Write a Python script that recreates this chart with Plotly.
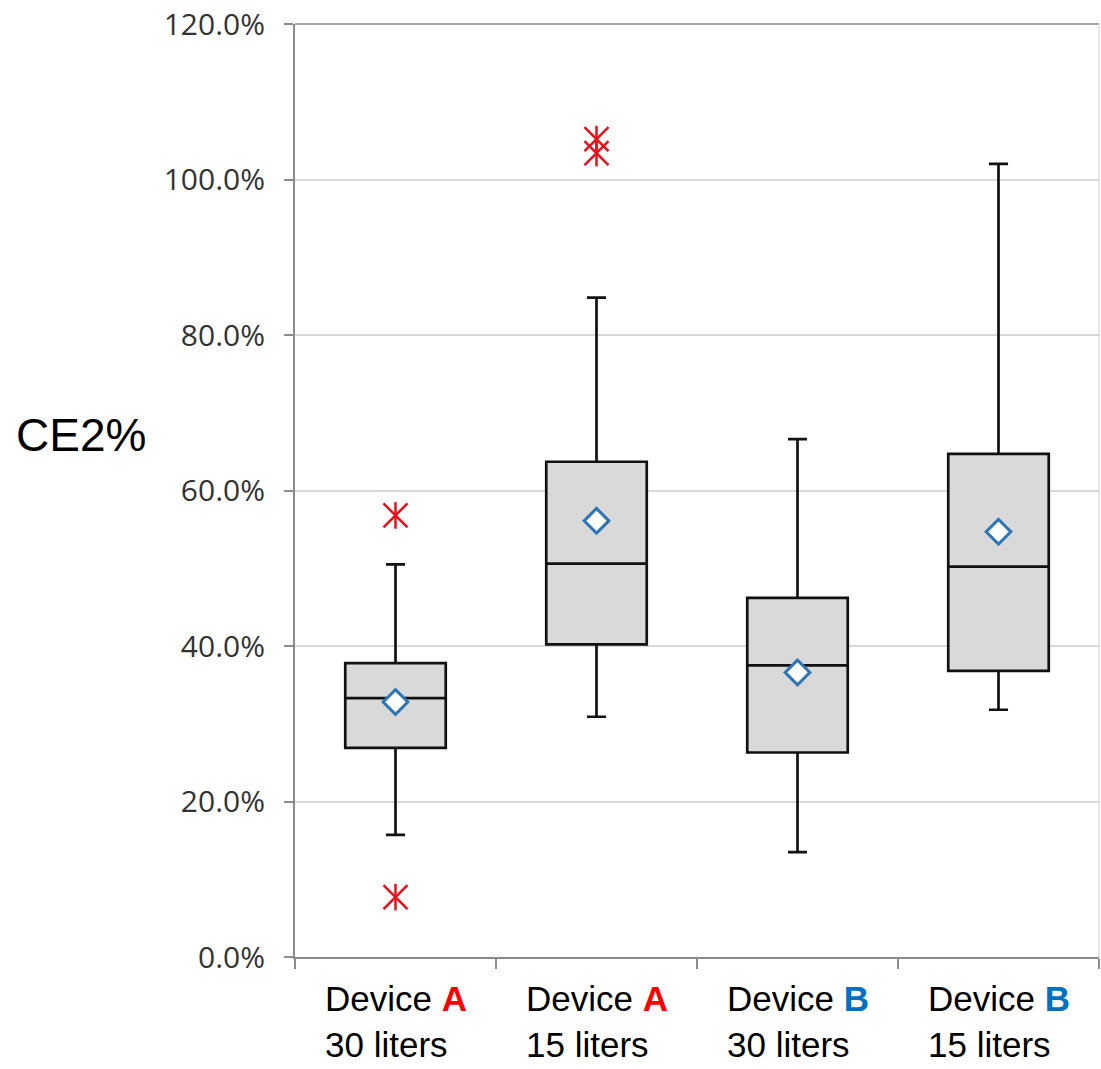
import plotly.graph_objects as go

# Groups and their summary statistics (CE2, in %)
categories = ["Device A 30 liters", "Device A 15 liters", "Device B 30 liters", "Device B 15 liters"]
devices = ["A", "A", "B", "B"]
volumes = ["30 liters", "15 liters", "30 liters", "15 liters"]
lower_whisker = [15.7, 30.9, 13.5, 31.8]
q1_values = [26.9, 40.2, 26.3, 36.8]
median_values = [33.3, 50.6, 37.5, 50.2]
q3_values = [37.8, 63.7, 46.2, 64.7]
upper_whisker = [50.5, 84.8, 66.6, 102.0]
mean_values = [32.8, 56.1, 36.6, 54.7]

# Outliers
outlier_groups = ["Device A 30 liters", "Device A 30 liters", "Device A 15 liters", "Device A 15 liters"]
outlier_values = [56.8, 7.7, 105.2, 103.4]

y_ticks = [0, 20, 40, 60, 80, 100, 120]
y_tick_labels = ["0.0%", "20.0%", "40.0%", "60.0%", "80.0%", "100.0%", "120.0%"]
device_colors = {"A": "#ff0000", "B": "#0070c0"}

fig = go.Figure()

fig.add_trace(go.Box(
    x=categories,
    q1=q1_values,
    median=median_values,
    q3=q3_values,
    lowerfence=lower_whisker,
    upperfence=upper_whisker,
    boxpoints=False,
    width=0.5,
    whiskerwidth=0.19,
    fillcolor="#d9d9d9",
    line=dict(color="#111111", width=2.7),
    showlegend=False,
))

# Mean markers
fig.add_trace(go.Scatter(
    x=categories, y=mean_values, mode="markers",
    marker=dict(symbol="diamond", size=19, color="white",
                line=dict(color="#2e75b6", width=3)),
    showlegend=False,
))

# Outlier stars: an X with a vertical stroke
fig.add_trace(go.Scatter(
    x=outlier_groups, y=outlier_values, mode="markers",
    marker=dict(symbol="x-thin-open", size=24, color="#e8101a",
                line=dict(color="#e8101a", width=2.5)),
    showlegend=False,
))
fig.add_trace(go.Scatter(
    x=outlier_groups, y=outlier_values, mode="markers",
    marker=dict(symbol="line-ns-open", size=19, color="#e8101a",
                line=dict(color="#e8101a", width=2.5)),
    showlegend=False,
))

# Category labels (two lines, device letter highlighted)
for cat, dev, vol in zip(categories, devices, volumes):
    fig.add_annotation(
        x=cat, xref="x", y=0, yref="paper",
        xanchor="center", yanchor="top", align="left",
        yshift=-21, borderpad=0,
        text=f"Device <b><span style='color:{device_colors[dev]}'>{dev}</span></b><br>{vol}",
        showarrow=False,
        font=dict(family="Liberation Sans, Arial", size=35, color="#000000"),
    )

# Axis title
fig.add_annotation(
    x=0, xref="paper", y=0.559, yref="paper",
    xanchor="left", yanchor="middle", xshift=-281,
    text="CE2%", showarrow=False,
    font=dict(family="Liberation Sans, Arial", size=46, color="#000000"),
)

# Frame lines on top and right
fig.add_shape(type="line", xref="paper", yref="paper", x0=0, x1=1, y0=1, y1=1,
              line=dict(color="#a6a6a6", width=2))
fig.add_shape(type="line", xref="paper", yref="paper", x0=1, x1=1, y0=0, y1=1,
              line=dict(color="#d0d0d0", width=1))

fig.update_layout(
    width=1101, height=1069,
    margin=dict(l=295, r=2, t=22, b=112),
    paper_bgcolor="white", plot_bgcolor="white",
    xaxis=dict(
        type="category", categoryorder="array", categoryarray=categories,
        range=[-0.5, 3.5],
        showticklabels=False,
        showline=True, linecolor="#8c8c8c", linewidth=2,
        ticks="outside", tickson="boundaries", ticklen=10, tickwidth=2, tickcolor="#8c8c8c",
        showgrid=False, zeroline=False,
    ),
    yaxis=dict(
        range=[0, 120], tickvals=y_ticks, ticktext=y_tick_labels,
        showline=True, linecolor="#8c8c8c", linewidth=2,
        ticks="outside", ticklen=9, tickwidth=2, tickcolor="#8c8c8c",
        ticklabelstandoff=13,
        showgrid=True, gridcolor="#d9d9d9", gridwidth=2,
        zeroline=False,
        tickfont=dict(family="Open Sans", size=30, color="#333333"),
    ),
)

fig.write_html("out.html")
